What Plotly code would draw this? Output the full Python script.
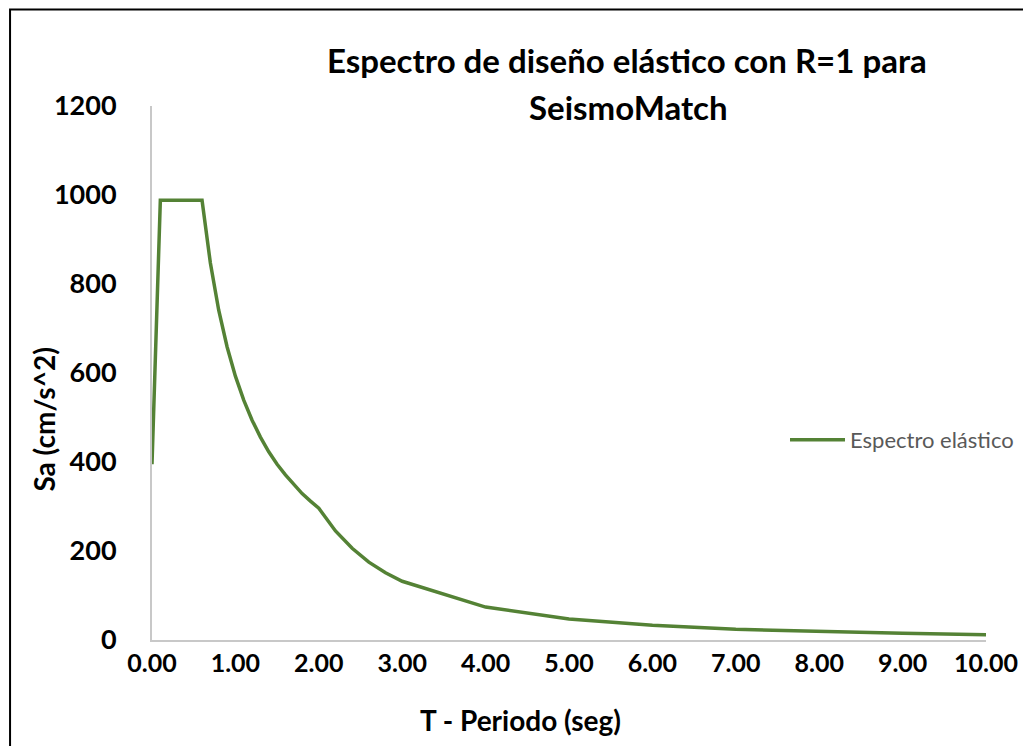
import plotly.graph_objects as go

# periodo T (seg) y aceleracion espectral Sa (cm/s^2)
periodo = [0.0, 0.1, 0.6, 0.7, 0.8, 0.9, 1.0, 1.1, 1.2, 1.3, 1.4, 1.5, 1.6, 1.7,
           1.8, 1.9, 2.0, 2.2, 2.4, 2.6, 2.8, 3.0, 4.0, 5.0, 6.0, 7.0, 8.0, 9.0, 10.0]
sa = [395, 988, 988, 847, 741, 659, 593, 539, 494, 456, 423, 395, 371, 349,
      329, 312, 296, 245, 206, 175, 151, 132, 74, 47, 33, 24, 19, 15, 12]

x_ticks = [0, 1, 2, 3, 4, 5, 6, 7, 8, 9, 10]
y_ticks = [0, 200, 400, 600, 800, 1000, 1200]

FONT = "Lato"

fig = go.Figure(go.Scatter(
    x=periodo,
    y=sa,
    mode="lines",
    name="Espectro elástico",
    line=dict(color="#548235", width=3.5),
))

# la pagina tiene 8px de margen, asi que todo se corre 8px
fig.update_layout(
    width=1023, height=738,
    margin=dict(l=144, r=39, t=98, b=106),
    plot_bgcolor="white", paper_bgcolor="white",
    font=dict(family=FONT, color="black"),
    showlegend=True,
    legend=dict(x=0.759, y=0.3745, xanchor="left", yanchor="middle",
                itemwidth=55,
                font=dict(family=FONT, size=22, color="#595959"),
                bgcolor="rgba(0,0,0,0)"),
    xaxis=dict(range=[0, 10], tickvals=x_ticks, tickformat=".2f",
               showgrid=False, zeroline=False, showline=True,
               linecolor="#C8C8C8", linewidth=2, ticks="",
               tickfont=dict(family=FONT, size=25, color="black", weight="bold")),
    yaxis=dict(range=[0, 1200], tickvals=y_ticks,
               showgrid=False, zeroline=False, showline=True,
               linecolor="#C8C8C8", linewidth=2, ticks="",
               ticklabelstandoff=28,
               tickfont=dict(family=FONT, size=27, color="black", weight="bold")),
    annotations=[
        dict(text="<b>Espectro de diseño elástico con R=1 para</b>",
             x=0.569, y=1.086, xref="paper", yref="paper", showarrow=False,
             xanchor="center", yanchor="middle", font=dict(size=33)),
        dict(text="<b>SeismoMatch</b>",
             x=0.571, y=0.998, xref="paper", yref="paper", showarrow=False,
             xanchor="center", yanchor="middle", font=dict(size=33)),
        dict(text="<b>T - Periodo (seg)</b>",
             x=0.4417, y=-0.150, xref="paper", yref="paper", showarrow=False,
             xanchor="center", yanchor="middle", font=dict(size=28)),
        dict(text="<b>Sa (cm/s^2)</b>", textangle=-90,
             x=-0.130, y=0.412, xref="paper", yref="paper", showarrow=False,
             xanchor="center", yanchor="middle", font=dict(size=28)),
    ],
    shapes=[dict(type="rect", xref="paper", yref="paper",
                 x0=-0.1702, x1=1.2, y0=-0.3, y1=1.1807,
                 line=dict(color="black", width=2))],
)

fig.write_html("out.html")
